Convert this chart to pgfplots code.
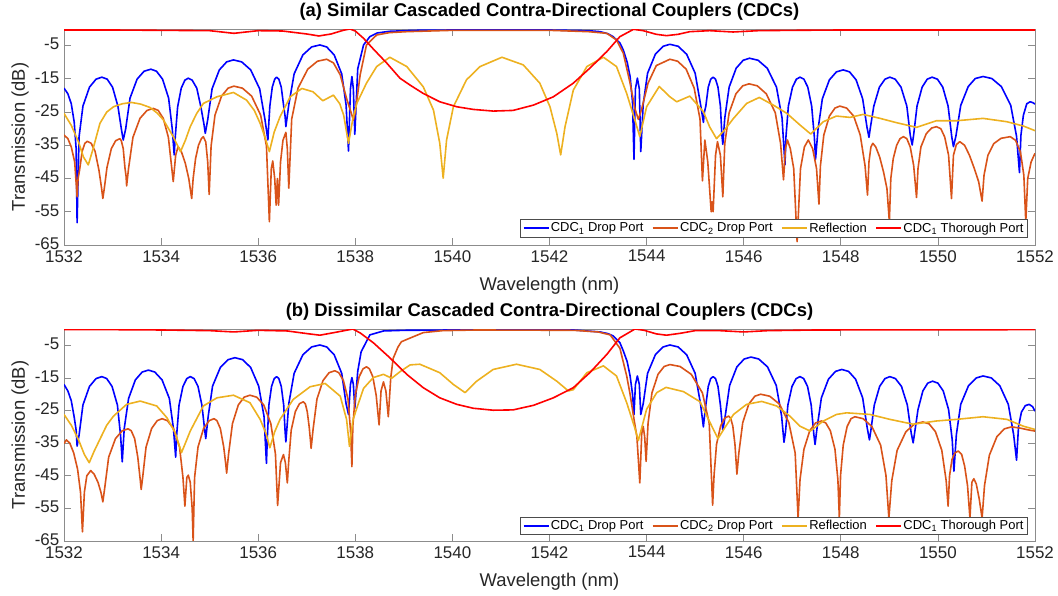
\documentclass[border=0pt]{standalone}
\usepackage{fontspec}
\setmainfont{Liberation Sans}
\usepackage{pgfplots}
\pgfplotsset{compat=1.18}
\definecolor{cblue}{rgb}{0,0,1}
\definecolor{corange}{rgb}{0.85,0.325,0.098}
\definecolor{cyellow}{rgb}{0.929,0.694,0.125}
\definecolor{cred}{rgb}{1,0,0}
\definecolor{axgray}{gray}{0.55}
\definecolor{txgray}{gray}{0.15}
\pgfplotsset{
  cdc/.style={
    scale only axis, width=971bp,
    xmin=1532, xmax=1552, ymin=-65, ymax=0,
    xtick={1532,1534,...,1552}, ytick={-65,-55,-45,-35,-25,-15,-5},
    /pgf/number format/1000 sep={},
    /pgf/number format/assume math mode=true,
    tick align=inside, major tick length=7bp,
    axis line style={axgray, line width=0.8bp},
    tick style={axgray, line width=0.8bp},
    every tick label/.append style={font=\fontsize{17}{19}\selectfont, text=txgray, inner sep=1bp},
    xticklabel style={yshift=-4bp},
    yticklabel style={xshift=-3.5bp, yshift=1.5bp},
    label style={font=\fontsize{18.5}{20}\selectfont, text=txgray},
    title style={font=\fontsize{18.5}{20}\selectfont\bfseries, text=black, yshift=-1bp},
    xlabel={Wavelength (nm)},
    ylabel={Transmission (dB)},
    ylabel style={at={(axis description cs:-0.0453,0.5)}, anchor=center},
    legend columns=4,
    legend cell align=left,
    legend style={font=\fontsize{13}{15}\selectfont, draw=black!70, line width=0.6bp, fill=white,
      inner sep=2bp, nodes={inner sep=1.5bp},
      /tikz/every even column/.append style={column sep=7bp}},
    legend image code/.code={\draw[#1] (0bp,0bp) -- (25bp,0bp);},
    every axis plot/.append style={line width=1.6bp, line join=round},
  }
}
\begin{document}
\begin{tikzpicture}
\path[use as bounding box] (0bp,0bp) rectangle (1058bp,596bp);
% ---------------- (a) ----------------
\begin{axis}[cdc, at={(64bp,351bp)}, anchor=south west, height=216bp,
  title={(a) Similar Cascaded Contra-Directional Couplers (CDCs)},
  xlabel style={at={(axis description cs:0.5,-0.19)}, anchor=center},
  legend style={at={(axis description cs:0.992,0.035)}, anchor=south east}]
\addplot[cblue] coordinates {
(1532.00,-17.8) (1532.08,-19.5) (1532.15,-22.5) (1532.21,-28) (1532.25,-36) (1532.27,-58.3)
(1532.31,-32.5) (1532.39,-23.2) (1532.525,-17.5) (1532.66,-15.1) (1532.78,-14.5) (1532.89,-15.1) (1533.00,-17.5) (1533.11,-23.2) (1533.185,-30.4) (1533.22,-33.4)
(1533.27,-30.1) (1533.36,-20.8) (1533.505,-15.1) (1533.65,-12.7) (1533.79,-12.1) (1533.905,-12.7) (1534.03,-15.1) (1534.155,-20.8) (1534.23,-30.1) (1534.27,-37.9)
(1534.29,-32.8) (1534.34,-23.5) (1534.415,-17.8) (1534.49,-15.4) (1534.56,-14.8) (1534.64,-15.4) (1534.735,-17.8) (1534.82,-23.5) (1534.88,-28.4) (1534.91,-31.4)
(1534.96,-27.3) (1535.05,-18.0) (1535.20,-12.3) (1535.35,-9.9) (1535.49,-9.3) (1535.66,-9.9) (1535.845,-12.3) (1536.03,-18.0) (1536.14,-27.3) (1536.20,-33.4)
(1536.21,-30.4) (1536.24,-23.2) (1536.29,-17.5) (1536.34,-15.1) (1536.38,-14.5) (1536.425,-15.1) (1536.475,-17.5) (1536.525,-23.2) (1536.555,-26.4) (1536.57,-29.4)
(1536.63,-22.8) (1536.74,-13.5) (1536.92,-7.8) (1537.10,-5.4) (1537.27,-4.8) (1537.41,-5.4) (1537.565,-7.8) (1537.72,-13.5) (1537.81,-22.8) (1537.86,-36.7)
(1537.90,-18) (1537.93,-14.3) (1537.96,-18) (1537.99,-31.7)
(1538.05,-12) (1538.17,-4.8) (1538.30,-2.3) (1538.45,-1.2) (1538.70,-0.7) (1539.20,-0.4) (1540.00,-0.3) (1542.00,-0.3) (1542.80,-0.5) (1543.04,-0.8) (1543.20,-1.4) (1543.31,-2.3) (1543.45,-4.2) (1543.52,-6.3) (1543.60,-10) (1543.66,-14.3) (1543.71,-22) (1543.74,-39.2) (1543.77,-18) (1543.81,-14.8) (1543.85,-18) (1543.88,-36.9)
(1543.93,-22.6) (1544.02,-13.3) (1544.18,-7.6) (1544.34,-5.2) (1544.48,-4.6) (1544.65,-5.2) (1544.825,-7.6) (1545.00,-13.3) (1545.11,-22.6) (1545.17,-28.1)
(1545.19,-25.1) (1545.22,-23.2) (1545.27,-17.5) (1545.32,-15.1) (1545.37,-14.5) (1545.42,-15.1) (1545.47,-17.5) (1545.52,-23.2) (1545.55,-31.7) (1545.57,-34.7)
(1545.61,-26.8) (1545.70,-17.5) (1545.845,-11.8) (1545.99,-9.4) (1546.12,-8.8) (1546.295,-9.4) (1546.485,-11.8) (1546.675,-17.5) (1546.79,-26.8) (1546.85,-40.9)
(1546.87,-32.5) (1546.92,-23.2) (1547.005,-17.5) (1547.085,-15.1) (1547.16,-14.5) (1547.24,-15.1) (1547.32,-17.5) (1547.40,-23.2) (1547.455,-32.5) (1547.48,-39.2)
(1547.53,-30.3) (1547.62,-21.0) (1547.765,-15.3) (1547.91,-12.9) (1548.05,-12.3) (1548.18,-12.9) (1548.315,-15.3) (1548.45,-21.0) (1548.54,-29.6) (1548.58,-32.6)
(1548.61,-29.6) (1548.68,-23.2) (1548.795,-17.5) (1548.91,-15.1) (1549.01,-14.5) (1549.12,-15.1) (1549.24,-17.5) (1549.36,-23.2) (1549.43,-31.9) (1549.47,-34.9)
(1549.50,-31.9) (1549.57,-23.2) (1549.675,-17.5) (1549.78,-15.1) (1549.88,-14.5) (1549.99,-15.1) (1550.10,-17.5) (1550.21,-23.2) (1550.285,-32.4) (1550.32,-35.4)
(1550.37,-32.3) (1550.47,-23.0) (1550.625,-17.3) (1550.77,-14.9) (1550.93,-14.3) (1551.11,-14.9) (1551.305,-17.3) (1551.50,-23.0) (1551.62,-32.3) (1551.68,-43.2)
(1551.71,-32) (1551.76,-26) (1551.83,-22.5) (1551.90,-21.9) (1551.96,-22.2) (1552.00,-22.6)
};
\addlegendentry{CDC\textsubscript{1} Drop Port}
\addplot[corange] coordinates {
(1532.00,-31.9) (1532.08,-33) (1532.15,-35.5) (1532.22,-40) (1532.27,-50.5)
(1532.29,-45) (1532.32,-42.5) (1532.375,-36.8) (1532.43,-34.4) (1532.48,-33.8) (1532.56,-34.4) (1532.64,-36.8) (1532.72,-42.5) (1532.775,-48) (1532.80,-51.0)
(1532.83,-48) (1532.885,-41.7) (1532.975,-36.0) (1533.065,-33.6) (1533.15,-33.0) (1533.18,-33.6) (1533.22,-36.0) (1533.255,-41.7) (1533.28,-44.5) (1533.29,-47.2)
(1533.33,-41.9) (1533.42,-32.6) (1533.565,-26.9) (1533.71,-24.5) (1533.84,-23.9) (1533.94,-24.5) (1534.045,-26.9) (1534.15,-32.6) (1534.22,-41.9) (1534.25,-45.9)
(1534.30,-38) (1534.35,-35.4) (1534.42,-37) (1534.50,-40.5) (1534.57,-45) (1534.63,-51)
(1534.66,-45) (1534.71,-39) (1534.77,-35) (1534.83,-33) (1534.87,-32.4) (1534.92,-34) (1534.96,-40) (1534.99,-49.8)
(1535.03,-35.2) (1535.11,-25.9) (1535.245,-20.2) (1535.38,-17.8) (1535.50,-17.2) (1535.675,-17.8) (1535.865,-20.2) (1536.05,-25.9) (1536.17,-35.2) (1536.23,-58.0)
(1536.27,-42) (1536.30,-39.7) (1536.34,-45) (1536.37,-53) (1536.395,-45) (1536.42,-53) (1536.46,-40) (1536.51,-33.5) (1536.57,-31.1) (1536.60,-36) (1536.63,-47.9)
(1536.69,-27.1) (1536.82,-17.8) (1537.02,-12.1) (1537.22,-9.7) (1537.41,-9.1) (1537.55,-10.2) (1537.69,-13.8) (1537.82,-20.9) (1537.93,-25.9) (1537.96,-27.4) (1538.00,-25) (1538.10,-13.8) (1538.23,-4.8) (1538.44,-1.8) (1538.70,-1.1) (1539.06,-0.8) (1540.00,-0.4) (1542.00,-0.4) (1542.80,-0.8) (1543.18,-1.3) (1543.38,-3.3) (1543.52,-7.3) (1543.66,-16.3) (1543.76,-24) (1543.83,-27.2) (1543.90,-24) (1544.03,-16.3) (1544.20,-11) (1544.48,-9.1) (1544.64,-9.7) (1544.815,-12.1) (1544.98,-17.8) (1545.10,-27.1) (1545.15,-45.7)
(1545.20,-33.4) (1545.26,-40) (1545.33,-55) (1545.35,-52) (1545.37,-55) (1545.42,-38) (1545.46,-33.9) (1545.52,-38) (1545.57,-50.5)
(1545.61,-34.5) (1545.70,-25.2) (1545.84,-19.5) (1545.98,-17.1) (1546.11,-16.5) (1546.28,-17.1) (1546.465,-19.5) (1546.65,-25.2) (1546.76,-34.5) (1546.82,-45.4)
(1546.86,-36) (1546.90,-33.4) (1546.96,-36) (1547.03,-42) (1547.10,-64) (1547.17,-42) (1547.25,-35.5) (1547.33,-33.4) (1547.42,-36) (1547.50,-42) (1547.55,-52.7)
(1547.58,-41.2) (1547.65,-31.9) (1547.765,-26.2) (1547.88,-23.8) (1547.98,-23.2) (1548.12,-23.8) (1548.265,-26.2) (1548.40,-31.9) (1548.50,-41.2) (1548.55,-50.0)
(1548.58,-40) (1548.62,-35.5) (1548.66,-34.4) (1548.72,-35.5) (1548.80,-38.5) (1548.88,-43) (1548.95,-48) (1549.00,-58)
(1549.03,-45) (1549.08,-39) (1549.15,-35) (1549.22,-33) (1549.29,-32.4) (1549.36,-33) (1549.43,-35.5) (1549.50,-41) (1549.56,-50.7)
(1549.59,-42) (1549.65,-35.5) (1549.76,-31.5) (1549.87,-29.8) (1549.97,-29.4) (1550.06,-30) (1550.14,-32.5) (1550.22,-38) (1550.28,-51.0)
(1550.32,-38) (1550.38,-34.8) (1550.45,-33.9) (1550.55,-35) (1550.65,-38) (1550.75,-42) (1550.84,-46) (1550.91,-51.8)
(1550.95,-44) (1551.03,-38) (1551.15,-34.5) (1551.30,-32.9) (1551.49,-32.4) (1551.60,-33.5) (1551.70,-37) (1551.77,-44) (1551.81,-58)
(1551.85,-45) (1551.92,-40) (1552.00,-37.4)
};
\addlegendentry{CDC\textsubscript{2} Drop Port}
\addplot[cyellow] coordinates {
(1532.00,-25.4) (1532.15,-29) (1532.30,-34) (1532.40,-38.5) (1532.50,-40.9) (1532.60,-36) (1532.74,-28.4) (1532.88,-25) (1533.02,-23.4) (1533.20,-22.5) (1533.39,-22.1) (1533.58,-22.6) (1533.77,-23.6) (1533.92,-25.3) (1534.05,-27.4) (1534.25,-32.4) (1534.40,-36.9) (1534.50,-33.5) (1534.60,-29.4) (1534.73,-25.5) (1534.87,-22.4) (1535.15,-20.4) (1535.49,-19.1) (1535.76,-21.4) (1535.92,-24.5) (1536.04,-28.4) (1536.15,-33) (1536.23,-36.9) (1536.33,-31) (1536.45,-26.4) (1536.66,-20.4) (1536.90,-17.9) (1537.13,-18.9) (1537.33,-21.6) (1537.55,-19.9) (1537.68,-22.5) (1537.76,-25.9) (1537.86,-34.4) (1537.95,-27) (1538.03,-22.4) (1538.23,-16.3) (1538.44,-11.3) (1538.71,-8.5) (1539.06,-11.3) (1539.40,-17.4) (1539.61,-24.4) (1539.74,-34.4) (1539.81,-44.9) (1539.88,-33.4) (1540.02,-23.4) (1540.29,-15.3) (1540.57,-11.3) (1541.02,-8.5) (1541.46,-10.8) (1541.80,-16.3) (1542.01,-23.4) (1542.15,-31.4) (1542.23,-37.9) (1542.32,-29.4) (1542.49,-18.4) (1542.77,-11.3) (1543.11,-8.5) (1543.38,-11.3) (1543.59,-19.4) (1543.75,-27) (1543.86,-32.4) (1544.00,-23.4) (1544.26,-17.3) (1544.48,-20.4) (1544.62,-21.9) (1544.89,-20.2) (1545.17,-24.9) (1545.30,-29.5) (1545.44,-33.0) (1545.60,-30.5) (1545.79,-26.9) (1546.06,-22.4) (1546.32,-20.6) (1546.61,-22.9) (1546.89,-25.4) (1547.16,-28.9) (1547.38,-31.6) (1547.64,-27.9) (1547.91,-26.2) (1548.19,-26.6) (1548.46,-25.7) (1548.81,-26.9) (1549.15,-28.2) (1549.56,-29.6) (1549.97,-27.6) (1550.39,-27.6) (1550.93,-26.9) (1551.42,-27.9) (1551.76,-29.2) (1552.00,-30.6)
};
\addlegendentry{Reflection}
\addplot[cred] coordinates {
(1532.00,-0.3) (1533.00,-0.3) (1534.00,-0.4) (1535.00,-0.5) (1535.50,-1.3) (1536.00,-0.5) (1536.50,-0.6) (1537.00,-1.5) (1537.25,-2.1) (1537.50,-1.5) (1537.75,-0.4) (1537.89,0) (1538.00,-0.6) (1538.17,-2.8) (1538.37,-6.0) (1538.65,-10.3) (1538.92,-14.8) (1539.13,-16.9) (1539.40,-19.4) (1539.74,-21.9) (1540.09,-23.4) (1540.43,-24.2) (1540.84,-24.7) (1541.25,-24.5) (1541.67,-22.9) (1542.08,-20.4) (1542.49,-16.3) (1542.83,-11.8) (1543.18,-6.8) (1543.45,-2.3) (1543.73,-0.1) (1543.93,-0.5) (1544.20,-1.6) (1544.41,-2.0) (1544.65,-1.6) (1544.89,-0.8) (1545.30,-0.5) (1545.78,-0.9) (1546.30,-0.5) (1547.00,-0.4) (1548.00,-0.3) (1550.00,-0.3) (1552.00,-0.3)
};
\addlegendentry{CDC\textsubscript{1} Thorough Port}
\end{axis}
% ---------------- (b) ----------------
\begin{axis}[cdc, at={(64bp,55bp)}, anchor=south west, height=212bp,
  title={(b) Dissimilar Cascaded Contra-Directional Couplers (CDCs)},
  xlabel style={at={(axis description cs:0.5,-0.194)}, anchor=center},
  legend style={at={(axis description cs:0.992,0.028)}, anchor=south east}]
\addplot[cblue] coordinates {
(1532.00,-17.0) (1532.08,-19) (1532.15,-22) (1532.21,-27) (1532.25,-31) (1532.27,-35.9)
(1532.31,-32.6) (1532.39,-23.3) (1532.525,-17.6) (1532.66,-15.2) (1532.78,-14.6) (1532.88,-15.2) (1532.99,-17.6) (1533.10,-23.3) (1533.165,-32.6) (1533.20,-40.7)
(1533.24,-30.6) (1533.33,-21.3) (1533.47,-15.6) (1533.61,-13.2) (1533.74,-12.6) (1533.87,-13.2) (1534.02,-15.6) (1534.17,-21.3) (1534.255,-30.6) (1534.30,-39.3)
(1534.32,-32.6) (1534.37,-23.3) (1534.45,-17.6) (1534.53,-15.2) (1534.60,-14.6) (1534.68,-15.2) (1534.76,-17.6) (1534.84,-23.3) (1534.895,-30.6) (1534.92,-33.6)
(1534.97,-26.8) (1535.06,-17.5) (1535.22,-11.8) (1535.38,-9.4) (1535.52,-8.8) (1535.68,-9.4) (1535.845,-11.8) (1536.01,-17.5) (1536.12,-26.8) (1536.17,-41.2)
(1536.19,-32.6) (1536.22,-23.3) (1536.275,-17.6) (1536.33,-15.2) (1536.38,-14.6) (1536.425,-15.2) (1536.475,-17.6) (1536.525,-23.3) (1536.555,-31.6) (1536.57,-34.6)
(1536.63,-22.9) (1536.74,-13.6) (1536.92,-7.9) (1537.10,-5.5) (1537.27,-4.9) (1537.41,-5.5) (1537.565,-7.9) (1537.72,-13.6) (1537.81,-22.9) (1537.86,-26.2)
(1537.90,-17) (1537.93,-14.9) (1537.96,-17) (1537.99,-24.3) (1538.05,-13) (1538.12,-7.0) (1538.30,-1.8) (1538.58,-0.6) (1539.00,-0.4) (1540.00,-0.3) (1542.50,-0.3) (1543.04,-0.9) (1543.20,-1.4) (1543.31,-2.1) (1543.45,-4.2) (1543.52,-6.7) (1543.60,-10) (1543.66,-14.4) (1543.71,-20) (1543.74,-26.2) (1543.77,-17) (1543.81,-14.4) (1543.85,-17) (1543.88,-26.2)
(1543.93,-22.9) (1544.02,-13.6) (1544.18,-7.9) (1544.34,-5.5) (1544.48,-4.9) (1544.65,-5.5) (1544.825,-7.9) (1545.00,-13.6) (1545.11,-22.9) (1545.17,-30.0)
(1545.19,-27.0) (1545.22,-23.3) (1545.27,-17.6) (1545.32,-15.2) (1545.37,-14.6) (1545.42,-15.2) (1545.47,-17.6) (1545.52,-23.3) (1545.55,-28.0) (1545.57,-31.0)
(1545.62,-26.6) (1545.71,-17.3) (1545.86,-11.6) (1546.01,-9.2) (1546.15,-8.6) (1546.31,-9.2) (1546.49,-11.6) (1546.67,-17.3) (1546.78,-26.6) (1546.83,-34.7)
(1546.86,-31.7) (1546.91,-23.3) (1546.995,-17.6) (1547.08,-15.2) (1547.16,-14.6) (1547.235,-15.2) (1547.315,-17.6) (1547.39,-23.3) (1547.445,-32.4) (1547.47,-35.4)
(1547.51,-30.4) (1547.60,-21.1) (1547.745,-15.4) (1547.89,-13.0) (1548.02,-12.4) (1548.16,-13.0) (1548.305,-15.4) (1548.45,-21.1) (1548.545,-30.4) (1548.59,-34.0)
(1548.62,-31.0) (1548.69,-23.3) (1548.80,-17.6) (1548.91,-15.2) (1549.01,-14.6) (1549.125,-15.2) (1549.25,-17.6) (1549.37,-23.3) (1549.45,-31.9) (1549.49,-34.9)
(1549.52,-31.9) (1549.59,-24.7) (1549.69,-19.0) (1549.79,-16.6) (1549.89,-16.0) (1550.00,-16.6) (1550.11,-19.0) (1550.22,-24.7) (1550.295,-34.0) (1550.33,-43.6)
(1550.38,-32.4) (1550.47,-23.1) (1550.63,-17.4) (1550.79,-15.0) (1550.93,-14.4) (1551.10,-15.0) (1551.275,-17.4) (1551.45,-23.1) (1551.56,-32.4) (1551.62,-40.2)
(1551.66,-30) (1551.72,-25.5) (1551.80,-23.5) (1551.88,-23.1) (1551.95,-23.8) (1552.00,-25.2)
};
\addlegendentry{CDC\textsubscript{1} Drop Port}
\addplot[corange] coordinates {
(1532.00,-35.1) (1532.05,-34.0) (1532.12,-35) (1532.20,-38) (1532.28,-43) (1532.34,-50) (1532.38,-62.2) (1532.42,-50) (1532.47,-45) (1532.55,-43.4) (1532.62,-44.5) (1532.70,-47) (1532.76,-50) (1532.80,-53.0)
(1532.84,-48.6) (1532.92,-39.3) (1533.06,-33.6) (1533.20,-31.2) (1533.32,-30.6) (1533.385,-31.2) (1533.455,-33.6) (1533.52,-39.3) (1533.57,-46.2) (1533.59,-49.2)
(1533.62,-45.5) (1533.69,-36.2) (1533.805,-30.5) (1533.92,-28.1) (1534.02,-27.5) (1534.13,-28.1) (1534.255,-30.5) (1534.38,-36.2) (1534.45,-45.5) (1534.49,-54.3)
(1534.53,-45.5) (1534.56,-44.8) (1534.60,-47) (1534.64,-55) (1534.66,-65)
(1534.69,-45.5) (1534.76,-36.2) (1534.875,-30.5) (1534.99,-28.1) (1535.09,-27.5) (1535.15,-28.1) (1535.22,-30.5) (1535.29,-36.2) (1535.33,-41.2) (1535.35,-44.2)
(1535.39,-38.3) (1535.47,-29.0) (1535.59,-23.3) (1535.71,-20.9) (1535.83,-20.3) (1535.97,-20.9) (1536.115,-23.3) (1536.26,-29.0) (1536.355,-38.3) (1536.40,-54.1)
(1536.46,-41) (1536.52,-38.5) (1536.56,-41) (1536.60,-47.2)
(1536.63,-40.3) (1536.68,-31.0) (1536.765,-25.3) (1536.85,-22.9) (1536.93,-22.3) (1536.97,-22.9) (1537.01,-25.3) (1537.05,-30) (1537.075,-34) (1537.09,-36.6)
(1537.13,-30.8) (1537.21,-21.5) (1537.335,-15.8) (1537.46,-13.4) (1537.58,-12.8) (1537.66,-13.4) (1537.755,-15.8) (1537.85,-21.5) (1537.90,-30.8) (1537.93,-42.2)
(1537.95,-29.6) (1538.00,-20.3) (1538.08,-14.6) (1538.16,-12.2) (1538.23,-11.6) (1538.29,-12.2) (1538.36,-14.6) (1538.43,-20.3) (1538.47,-26.4) (1538.49,-29.4)
(1538.53,-19) (1538.58,-16.2) (1538.63,-19) (1538.68,-26.9) (1538.73,-15) (1538.78,-9.0) (1538.88,-5.5) (1538.95,-3.9) (1539.06,-3.2) (1539.40,-1.1) (1539.80,-0.5) (1540.50,-0.3) (1542.50,-0.4) (1543.00,-0.9) (1543.25,-1.8) (1543.45,-5.9) (1543.59,-14.4) (1543.66,-20) (1543.73,-26.7) (1543.80,-33) (1543.86,-47.2) (1543.90,-32) (1543.93,-29.9) (1543.96,-33) (1543.99,-40.6)
(1544.03,-28.9) (1544.11,-19.6) (1544.235,-13.9) (1544.36,-11.5) (1544.48,-10.9) (1544.69,-11.5) (1544.92,-13.9) (1545.15,-19.6) (1545.29,-28.9) (1545.36,-54.0)
(1545.39,-44.7) (1545.44,-35.4) (1545.525,-29.7) (1545.61,-27.3) (1545.69,-26.7) (1545.73,-27.3) (1545.775,-29.7) (1545.82,-35.4) (1545.845,-41) (1545.86,-44.5)
(1545.90,-38.0) (1545.98,-28.7) (1546.105,-23.0) (1546.23,-20.6) (1546.35,-20.0) (1546.535,-20.6) (1546.735,-23.0) (1546.93,-28.7) (1547.06,-38.0) (1547.12,-58)
(1547.16,-46.2) (1547.24,-36.9) (1547.36,-31.2) (1547.48,-28.8) (1547.60,-28.2) (1547.69,-28.8) (1547.785,-31.2) (1547.88,-36.9) (1547.94,-46.2) (1547.97,-58)
(1547.995,-44.9) (1548.05,-35.6) (1548.13,-29.9) (1548.21,-27.5) (1548.29,-26.9) (1548.46,-27.5) (1548.64,-29.9) (1548.82,-35.6) (1548.93,-44.9) (1548.99,-58)
(1549.05,-46.5) (1549.16,-37.2) (1549.34,-31.5) (1549.52,-29.1) (1549.69,-28.5) (1549.82,-29.1) (1549.95,-31.5) (1550.08,-37.2) (1550.17,-46.5) (1550.21,-54.3)
(1550.24,-45) (1550.29,-40) (1550.35,-38) (1550.42,-37.4) (1550.49,-38.5) (1550.55,-42) (1550.61,-48) (1550.66,-58) (1550.70,-47) (1550.74,-45.9) (1550.79,-47.5) (1550.85,-52) (1550.91,-58)
(1550.96,-48) (1551.06,-38.7) (1551.215,-33.0) (1551.37,-30.6) (1551.52,-30.0) (1551.70,-30.4) (1551.85,-30.9) (1552.00,-31.3)
};
\addlegendentry{CDC\textsubscript{2} Drop Port}
\addplot[cyellow] coordinates {
(1532.00,-26.2) (1532.15,-29.5) (1532.30,-34) (1532.42,-38.5) (1532.52,-41.0) (1532.62,-37.5) (1532.74,-33.8) (1532.88,-29.5) (1533.02,-26.7) (1533.29,-23.1) (1533.57,-22.1) (1533.91,-23.6) (1534.12,-27.2) (1534.29,-31.8) (1534.42,-37.9) (1534.50,-35) (1534.60,-31.3) (1534.87,-23.6) (1535.15,-21.1) (1535.49,-20.3) (1535.83,-22.6) (1536.04,-27.7) (1536.16,-32) (1536.24,-36.4) (1536.34,-31.5) (1536.45,-27.7) (1536.72,-21.6) (1537.07,-17.7) (1537.38,-16.7) (1537.69,-20.6) (1537.82,-27.7) (1537.88,-36.0) (1537.95,-28) (1538.03,-24.3) (1538.17,-18.2) (1538.37,-14.9) (1538.58,-13.9) (1538.75,-15.1) (1538.92,-13.1) (1539.13,-11.0) (1539.33,-10.8) (1539.74,-13.4) (1540.02,-17.0) (1540.26,-19.5) (1540.50,-16.0) (1540.84,-12.4) (1541.32,-10.8) (1541.80,-12.4) (1542.15,-16.0) (1542.39,-19.0) (1542.49,-18.6) (1542.77,-13.4) (1543.11,-11.3) (1543.38,-14.4) (1543.59,-22.6) (1543.75,-30) (1543.83,-34.2) (1544.00,-24.6) (1544.21,-19.5) (1544.40,-17.9) (1544.76,-19.2) (1545.10,-22.3) (1545.30,-28.5) (1545.47,-33.6) (1545.60,-30.5) (1545.79,-26.2) (1546.06,-23.1) (1546.37,-22.2) (1546.68,-23.6) (1546.95,-26.7) (1547.16,-29.8) (1547.37,-31.3) (1547.64,-28.2) (1547.91,-26.2) (1548.12,-25.7) (1548.60,-26.2) (1549.01,-27.7) (1549.49,-29.2) (1549.97,-28.2) (1550.39,-27.7) (1550.93,-26.9) (1551.42,-27.7) (1551.76,-29.8) (1552.00,-30.8)
};
\addlegendentry{Reflection}
\addplot[cred] coordinates {
(1532.00,-0.2) (1533.00,-0.2) (1534.00,-0.3) (1535.00,-0.5) (1535.50,-0.9) (1536.00,-0.4) (1536.60,-0.6) (1537.00,-1.4) (1537.27,-1.9) (1537.60,-1.0) (1537.95,0) (1538.10,-1.2) (1538.37,-4.2) (1538.71,-8.8) (1539.06,-13.9) (1539.40,-18.0) (1539.74,-21.1) (1540.09,-23.1) (1540.43,-24.3) (1540.84,-24.9) (1541.25,-24.8) (1541.67,-23.4) (1542.08,-21.1) (1542.49,-18.0) (1542.83,-13.4) (1543.18,-7.8) (1543.45,-2.7) (1543.76,0) (1543.95,-0.4) (1544.20,-1.5) (1544.41,-1.9) (1544.70,-1.3) (1545.00,-0.5) (1545.50,-0.5) (1546.00,-0.9) (1546.50,-0.5) (1547.50,-0.3) (1552.00,-0.2)
};
\addlegendentry{CDC\textsubscript{1} Thorough Port}
\end{axis}
\end{tikzpicture}
\end{document}
